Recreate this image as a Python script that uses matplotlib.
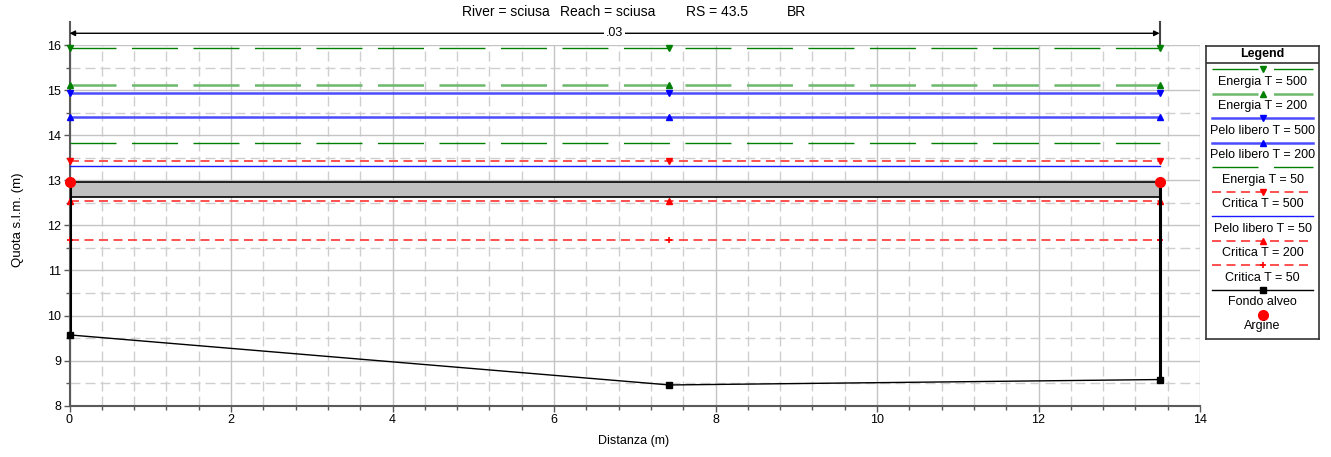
import matplotlib
matplotlib.use('Agg')
import matplotlib.pyplot as plt
from matplotlib.lines import Line2D
from matplotlib.ticker import MultipleLocator

plt.rcParams['font.family'] = ['Liberation Sans', 'DejaVu Sans']
plt.rcParams['lines.scale_dashes'] = False

# sezione: stazioni e quote
stations = [0.0, 7.43, 13.5]
fondo_z = [9.57, 8.46, 8.58]
bank_x = [0.0, 13.5]
argine_z = [12.96, 12.96]
deck_top = 12.96
deck_bottom = 12.63
manning_n = '.03'
manning_z = 16.26

# profili (quota costante sulla sezione)
profile_names = ['Energia T = 500', 'Energia T = 200', 'Pelo libero T = 500', 'Pelo libero T = 200',
                 'Energia T = 50', 'Critica T = 500', 'Pelo libero T = 50', 'Critica T = 200',
                 'Critica T = 50']
profile_z = [15.94, 15.11, 14.94, 14.40, 13.82, 13.43, 13.32, 12.55, 11.67]

title_parts = ['River = sciusa', 'Reach = sciusa', 'RS = 43.5', 'BR']

px = 1 / 1.389  # pixel -> punti a 100 dpi
green_dash = (0, (46 * px, 15.5 * px))
red_dash = (0, (9 * px, 5.5 * px))
styles = [
    dict(color='#008000', lw=1.0, ls=green_dash, marker='v', mfc='#008000', ms=4.5),
    dict(color='#6cb86c', lw=1.8, ls=green_dash, marker='^', mfc='#008000', mec='#008000', ms=4.5),
    dict(color='#4c4cff', lw=1.8, ls='-', marker='v', mfc='#0000ff', mec='#0000ff', ms=4.5),
    dict(color='#4c4cff', lw=1.8, ls='-', marker='^', mfc='#0000ff', mec='#0000ff', ms=4.5),
    dict(color='#008000', lw=1.0, ls=green_dash, marker=None),
    dict(color='#ff5050', lw=1.4, ls=red_dash, marker='v', mfc='#ff0000', mec='#ff0000', ms=4.5),
    dict(color='#1a1aff', lw=1.0, ls='-', marker=None),
    dict(color='#ff5050', lw=1.4, ls=red_dash, marker='^', mfc='#ff0000', mec='#ff0000', ms=4.5),
    dict(color='#ff5050', lw=1.4, ls=red_dash, marker='+', mfc='#ff0000', mec='#ff0000', ms=4.5, mew=1.2),
]

W, H = 1331, 457
fig = plt.figure(figsize=(W / 100, H / 100), dpi=100)
ax = fig.add_axes([69.5 / W, 1 - 405.7 / H, (1200 - 69.5) / W, (405.7 - 45) / H])

ax.set_xlim(0, 14)
ax.set_ylim(8, 16)
ax.xaxis.set_major_locator(MultipleLocator(2))
ax.xaxis.set_minor_locator(MultipleLocator(0.4))
ax.yaxis.set_major_locator(MultipleLocator(1))
ax.yaxis.set_minor_locator(MultipleLocator(0.5))
ax.grid(which='major', color='#c4c4c4', lw=1.0, ls='-')
ax.grid(which='minor', color='#cfcfcf', lw=1.0, ls=(0, (10 * px, 5 * px)))
ax.set_axisbelow(True)
for s in ['top', 'right']:
    ax.spines[s].set_visible(False)
for s in ['left', 'bottom']:
    ax.spines[s].set_color('#5a5a5a')
    ax.spines[s].set_linewidth(1.5)
ax.tick_params(which='major', length=4, width=1, color='#5a5a5a', labelsize=9, pad=2)
ax.tick_params(which='minor', length=3, width=1, color='#5a5a5a')
# prolungamento asse y sopra la griglia
ax.plot([0, 0], [16, 16.52], color='#5a5a5a', lw=1.5, clip_on=False)

# impalcato
ax.fill_between(bank_x, [deck_bottom] * 2, [deck_top] * 2, facecolor='#c0c0c0', edgecolor='none', zorder=2)
ax.plot(bank_x, [deck_top] * 2, color='black', lw=1.2, zorder=3)
ax.plot(bank_x, [deck_bottom] * 2, color='black', lw=1.2, zorder=3)

# profili
for name, z, st in zip(profile_names, profile_z, styles):
    ax.plot([stations[0], stations[-1]], [z, z], color=st['color'], lw=st['lw'], ls=st['ls'], zorder=4)
    if st['marker']:
        ax.plot(stations, [z] * len(stations), ls='none', marker=st['marker'], ms=st['ms'],
                mfc=st['mfc'], mec=st.get('mec', st['mfc']), mew=st.get('mew', 1), zorder=5, clip_on=False)

# fondo alveo
ax.plot(stations, fondo_z, color='black', lw=1.0, marker='s', ms=4.5, zorder=6, clip_on=False)
ax.plot([bank_x[0]] * 2, [fondo_z[0], deck_top], color='black', lw=2.2, zorder=6)
ax.plot([bank_x[1]] * 2, [fondo_z[-1], deck_top], color='black', lw=2.2, zorder=6)
ax.plot([bank_x[1]] * 2, [16, 16.52], color='#444444', lw=1.5, clip_on=False)

# argine
ax.plot(bank_x, argine_z, ls='none', marker='o', color='#ff0000', ms=7, zorder=7, clip_on=False)

# scabrezza
ax.annotate('', xy=(stations[0], manning_z), xytext=(stations[-1], manning_z),
            arrowprops=dict(arrowstyle='<|-|>', color='black', lw=1.0, mutation_scale=8, shrinkA=0, shrinkB=0),
            annotation_clip=False)
ax.text((stations[0] + stations[-1]) / 2, manning_z, manning_n, ha='center', va='center', fontsize=9,
        bbox=dict(facecolor='white', edgecolor='none', pad=1.5), clip_on=False)

fig.text(634 / W, 1 - 441 / H, 'Distanza (m)', ha='center', va='center', fontsize=9)
fig.text(18 / W, 1 - 220 / H, 'Quota s.l.m. (m)', ha='center', va='center', rotation=90, fontsize=9.5)
for part, x0 in zip(title_parts, [462, 560, 686, 787]):
    fig.text(x0 / W, 1 - 12 / H, part, ha='left', va='center', fontsize=10)

# legenda
lx0, lx1, ly0, ly1 = 1206, 1319, 45.7, 339
lg = fig.add_axes([lx0 / W, 1 - ly1 / H, (lx1 - lx0) / W, (ly1 - ly0) / H])
lg.set_xlim(lx0, lx1)
lg.set_ylim(ly1, ly0)
lg.set_xticks([])
lg.set_yticks([])
for s in lg.spines.values():
    s.set_color('#333333')
    s.set_linewidth(1.2)
lg.text((lx0 + lx1) / 2, 54, 'Legend', ha='center', va='center', fontsize=9, fontweight='bold')
lg.plot([lx0, lx1], [63, 63], color='#333333', lw=1.2)
xc = (lx0 + lx1) / 2
for i, (name, st) in enumerate(zip(profile_names, styles)):
    yl = 69.3 + i * 24.5
    lg.add_line(Line2D([1212, 1313], [yl, yl], color=st['color'], lw=st['lw'], ls=st['ls']))
    if st['marker']:
        lg.plot([xc], [yl], marker=st['marker'], ms=st['ms'], mfc=st['mfc'],
                mec=st.get('mec', st['mfc']), mew=st.get('mew', 1), ls='none')
    lg.text(xc, yl + 12.5, name, ha='center', va='center', fontsize=9)
yl = 69.3 + 9 * 24.5
lg.plot([1212, 1313], [yl, yl], color='black', lw=1.0)
lg.plot([xc], [yl], marker='s', color='black', ms=4.5)
lg.text(xc, yl + 12.5, 'Fondo alveo', ha='center', va='center', fontsize=9)
yl = 69.3 + 10 * 24.5
lg.plot([xc], [yl + 0.5], marker='o', color='#ff0000', ms=7)
lg.text(xc, yl + 11.5, 'Argine', ha='center', va='center', fontsize=9)

fig.savefig('out.png', dpi=100)
